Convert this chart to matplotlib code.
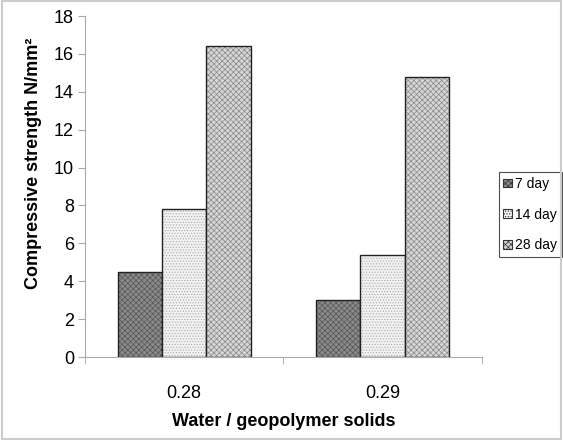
import matplotlib.pyplot as plt
import matplotlib.patches as mpatches
import numpy as np

# data
ratios = ['0.28', '0.29']
series = ['7 day', '14 day', '28 day']
day7 = [4.5, 3.0]
day14 = [7.8, 5.4]
day28 = [16.4, 14.8]

plt.rcParams['font.family'] = ['Liberation Sans', 'DejaVu Sans']
plt.rcParams['hatch.linewidth'] = 0.5

fig = plt.figure(figsize=(5.63, 4.40), dpi=100)
ax = fig.add_axes([0.151, 0.1886, 0.705, 0.775])

styles = [
    dict(facecolor='#8a8a8a', hatch='xxxxxx', edgecolor='#555555'),
    dict(facecolor='#f2f2f2', hatch='......', edgecolor='#aaaaaa'),
    dict(facecolor='#d6d6d6', hatch='xxxxxx', edgecolor='#888888'),
]

x = np.arange(len(ratios))
w = 0.224
handles = []
for i, (vals, st) in enumerate(zip([day7, day14, day28], styles)):
    ax.bar(x + (i - 1) * w, vals, width=w, facecolor=st['facecolor'],
           hatch=st['hatch'], edgecolor=st['edgecolor'], linewidth=0)
    # black outline drawn separately
    ax.bar(x + (i - 1) * w, vals, width=w, fill=False, edgecolor='#222222', linewidth=1.0)
    handles.append(mpatches.Patch(facecolor=st['facecolor'], hatch=st['hatch'],
                                  edgecolor='#333333', linewidth=0.8, label=series[i]))

ax.set_xlim(-0.5, 1.5)
ax.set_ylim(0, 18)
ax.set_yticks(range(0, 19, 2))
ax.set_xticks(x)
ax.set_xticklabels(ratios, fontsize=13)
ax.set_xticks([-0.5, 0.5, 1.5], minor=True)
ax.tick_params(axis='x', which='major', length=0, pad=20)
ax.tick_params(axis='x', which='minor', length=5, color='#aaaaaa', direction='out')
ax.tick_params(axis='y', length=5, color='#aaaaaa', labelsize=13, pad=3)

for s in ['top', 'right']:
    ax.spines[s].set_visible(False)
ax.spines['left'].set_color('#aaaaaa')
ax.spines['bottom'].set_color('#aaaaaa')

ax.set_ylabel('Compressive strength N/mm²', fontsize=13, fontweight='bold')
ax.yaxis.set_label_coords(-0.108, 0.569)
ax.set_xlabel('Water / geopolymer solids', fontsize=13, fontweight='bold', labelpad=8)

leg = ax.legend(handles=handles, loc='upper left', bbox_to_anchor=(1.042, 0.5425),
                fontsize=10, frameon=True, fancybox=False, handlelength=0.6,
                handleheight=0.6, handletextpad=0.25, borderpad=0.35, labelspacing=1.2,
                borderaxespad=0)
leg.get_frame().set_edgecolor('#222222')
leg.get_frame().set_linewidth(0.8)

# light frame around the whole picture
fig.patches.append(mpatches.Rectangle((0.003, 0.003), 0.994, 0.994, transform=fig.transFigure,
                                      fill=False, edgecolor='#cccccc', linewidth=1.5))

plt.savefig('out.png', dpi=100, facecolor='white')
